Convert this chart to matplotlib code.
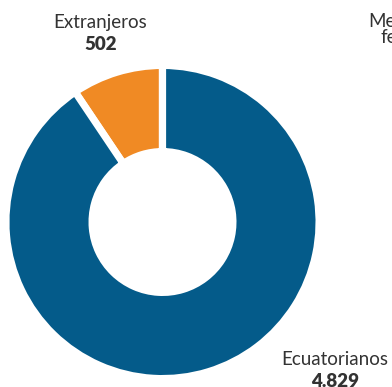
import matplotlib
matplotlib.use("Agg")
import matplotlib.pyplot as plt

categories = ["Extranjeros", "Ecuatorianos"]
values = [502, 4829]
value_labels = ["502", "4.829"]
colors = ["#f08a24", "#045b8a"]

W, H = 392, 387
fig = plt.figure(figsize=(W / 100, H / 100), dpi=100)
ax = fig.add_axes([0, 0, 1, 1])

lw_pt = 5.2
half = lw_pt / 72 * 100 / 2
cx, cy = 162.5, H - 222
R_vis, r_vis = 153, 74
R = R_vis + half
width = R - r_vis + half

ax.pie(values, colors=colors, startangle=90, counterclock=True,
       center=(cx, cy), radius=R,
       wedgeprops=dict(width=width, edgecolor="white", linewidth=lw_pt),
       frame=True)
ax.set_xlim(0, W)
ax.set_ylim(0, H)
ax.set_aspect("equal")
ax.axis("off")

font = "Lato"
tc = "#333333"
fs = 13.5
# Extranjeros label
ax.text(100.5, H - 28, categories[0], ha="center", va="baseline", fontsize=fs,
        family=font, color=tc)
ax.text(100.5, H - 50, value_labels[0], ha="center", va="baseline", fontsize=fs,
        family=font, color=tc, fontweight="heavy")
# Ecuatorianos label
ax.text(335, H - 365, categories[1], ha="center", va="baseline", fontsize=fs,
        family=font, color=tc)
ax.text(335, H - 387, value_labels[1], ha="center", va="baseline", fontsize=fs,
        family=font, color=tc, fontweight="heavy")
# clipped text at top-right
ax.text(368, H - 27, "Menores", ha="left", va="baseline", fontsize=fs,
        family=font, color=tc, clip_on=False)
ax.text(381, H - 43, "femenino", ha="left", va="baseline", fontsize=fs,
        family=font, color=tc, clip_on=False)

fig.savefig("out.png", dpi=100)
